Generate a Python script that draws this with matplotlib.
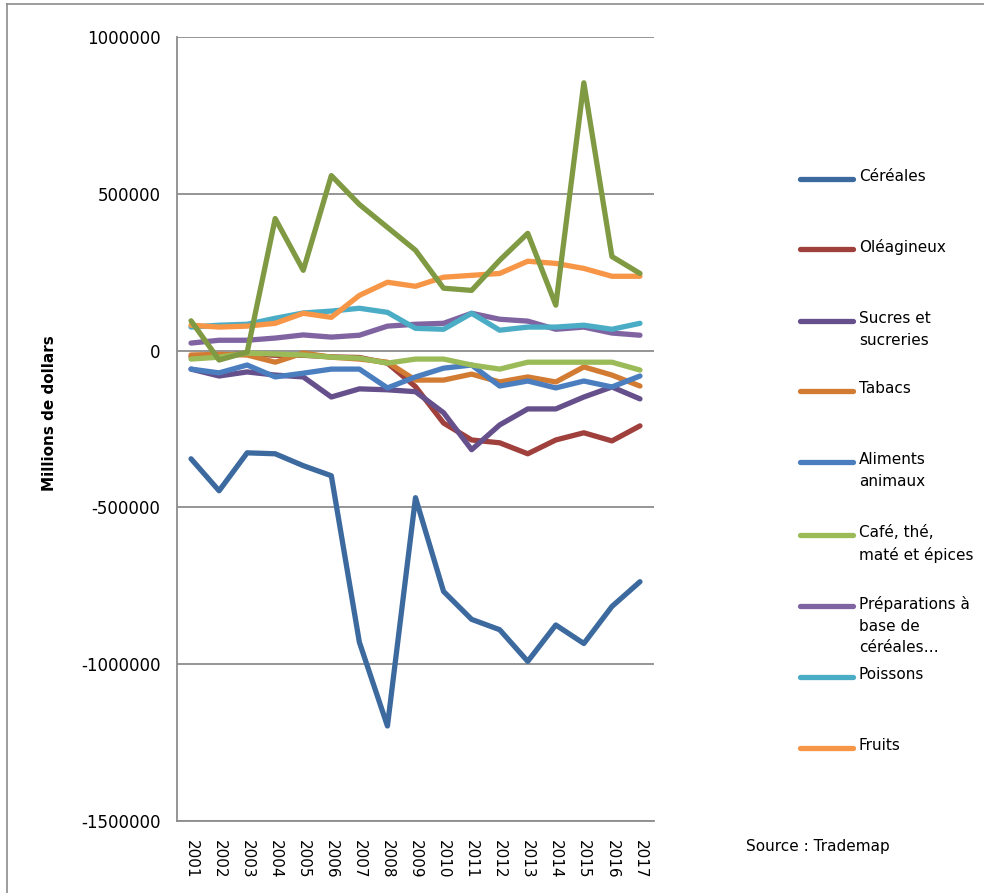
import matplotlib
matplotlib.use("Agg")
import matplotlib.pyplot as plt
from matplotlib.lines import Line2D

years = [str(y) for y in range(2001, 2018)]

cereales = [-345000, -447000, -326000, -329000, -367000, -399000, -930000, -1197000,
            -469000, -768000, -857000, -890000, -991000, -875000, -934000, -816000, -737000]
oleagineux = [-20000, -15000, -10000, -15000, -15000, -20000, -22000, -40000,
              -115000, -231000, -285000, -294000, -329000, -285000, -262000, -288000, -240000]
sucres = [-59000, -81000, -68000, -78000, -84000, -148000, -122000, -125000,
          -131000, -198000, -316000, -237000, -186000, -186000, -148000, -116000, -154000]
tabacs = [-14000, -12000, -14000, -37000, -8000, -21000, -27000, -37000,
          -94000, -94000, -75000, -100000, -84000, -100000, -52000, -78000, -113000]
aliments = [-59000, -71000, -46000, -84000, -72000, -59000, -59000, -119000,
            -84000, -56000, -46000, -113000, -97000, -119000, -97000, -116000, -81000]
cafe = [-27000, -21000, -8000, -11000, -14000, -21000, -24000, -40000,
        -27000, -27000, -46000, -59000, -37000, -37000, -37000, -37000, -62000]
preparations = [24000, 33000, 33000, 40000, 50000, 43000, 49000, 78000,
                84000, 87000, 119000, 100000, 94000, 68000, 75000, 56000, 49000]
poissons = [75000, 81000, 84000, 103000, 120000, 126000, 135000, 122000,
            71000, 68000, 119000, 65000, 75000, 75000, 81000, 68000, 87000]
fruits = [81000, 75000, 78000, 87000, 119000, 106000, 176000, 218000,
          205000, 234000, 240000, 246000, 285000, 278000, 262000, 237000, 237000]
# tenth series, its name is cut off from the legend in the source
autre = [95000, -30000, -5000, 421000, 256000, 558000, 466000, 393000,
         320000, 199000, 192000, 288000, 374000, 145000, 854000, 300000, 246000]

names = ["Céréales", "Oléagineux", "Sucres et\nsucreries", "Tabacs", "Aliments\nanimaux",
         "Café, thé,\nmaté et épices", "Préparations à\nbase de\ncéréales…", "Poissons", "Fruits"]
series = [cereales, oleagineux, sucres, tabacs, aliments, cafe, preparations, poissons, fruits]
colors = ["#3C6A9F", "#A0403C", "#65508B", "#D27B33", "#4A7EBF",
          "#9BBB59", "#8064A2", "#4BACC6", "#F79646"]
legend_y = [179, 249, 321, 391, 462, 535, 606, 677, 748]   # pixel rows of legend handles

W, H = 984, 893
fig = plt.figure(figsize=(W / 100, H / 100), dpi=100)
fig.patch.set_facecolor("white")
# outer chart frame, only its left and top edges are inside the crop
fig.add_artist(Line2D([7 / W, 7 / W], [0, 1 - 4 / H], color="#8c8c8c", lw=1.2))
fig.add_artist(Line2D([7 / W, 1], [1 - 4 / H, 1 - 4 / H], color="#8c8c8c", lw=1.2))

ax = fig.add_axes([177 / W, 1 - 821 / H, 477 / W, 784 / H])
x = list(range(len(years)))
for vals, c in zip(series, colors):
    ax.plot(x, vals, color=c, lw=3.8, solid_capstyle="round", solid_joinstyle="round")
ax.plot(x, autre, color="#7F9A42", lw=3.8, solid_capstyle="round", solid_joinstyle="round")

ax.set_xlim(-0.5, len(years) - 0.5)
ax.set_ylim(-1500000, 1000000)
ax.set_yticks(range(-1500000, 1000001, 500000))
ax.set_yticklabels([str(v) for v in range(-1500000, 1000001, 500000)], fontsize=12)
ax.set_xticks(x)
ax.set_xticklabels(years, rotation=270, fontsize=11)
ax.tick_params(axis="both", length=0)
ax.tick_params(axis="y", pad=12)
ax.tick_params(axis="x", pad=14)
ax.grid(axis="y", color="#8c8c8c", lw=1.3)
ax.set_axisbelow(True)
for s in ["top", "right"]:
    ax.spines[s].set_visible(False)
for s in ["left", "bottom"]:
    ax.spines[s].set_color("#8c8c8c")
    ax.spines[s].set_linewidth(1.3)

ax.set_ylabel("Millions de dollars", fontsize=11, fontweight="bold")
ax.yaxis.set_label_coords((57 - 177) / 477, 0.52)

# legend drawn by hand so the handle lines up with the first text line
for name, c, py in zip(names, colors, legend_y):
    fy = 1 - py / H
    fig.add_artist(Line2D([800 / W, 853 / W], [fy, fy], color=c, lw=3.8,
                          solid_capstyle="round"))
    fig.text(859 / W, fy + 10 / H, name, fontsize=11, va="top", ha="left",
             linespacing=1.55)

fig.text(746 / W, 1 - 847 / H, "Source : Trademap", fontsize=11, va="center", ha="left")

fig.savefig("out.png", dpi=100)
